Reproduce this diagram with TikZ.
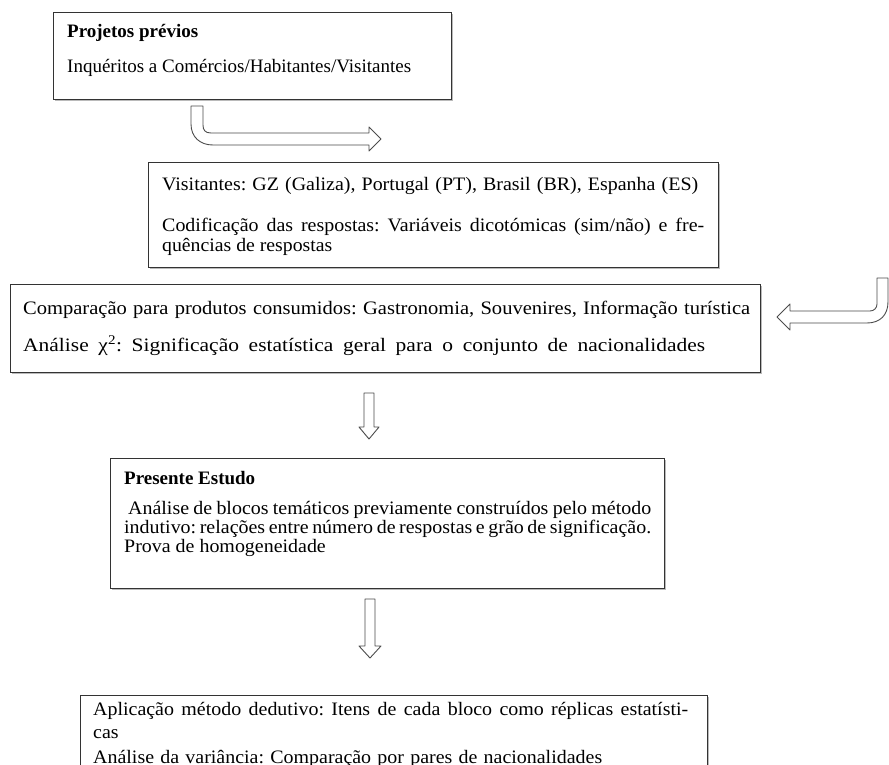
\documentclass[tikz,border=0pt]{standalone}
\usepackage{fontspec}
\setmainfont{Liberation Serif}
\usetikzlibrary{shadows}
\newcommand\myline[3][1.05]{\makebox[#2][s]{\addfontfeature{FakeStretch=#1}#3}}
\tikzset{
  box/.style={draw=black!80, line width=1pt, fill=white, inner sep=0pt, anchor=north west,
    drop shadow={shadow xshift=1pt, shadow yshift=-1.5pt, opacity=0.45, fill=black!60}},
  txt/.style={anchor=base west, inner sep=0pt, font=\fontsize{19}{21}\selectfont\frenchspacing},
  arr/.style={draw=black!70, line width=0.9pt, fill=white, line join=round},
}
\begin{document}
\begin{tikzpicture}[x=1pt, y=-1pt]
\fill[white] (0,0) rectangle (889,765);
\useasboundingbox (0,0) rectangle (889,765);

% boxes
\node[box, minimum width=398pt, minimum height=87pt] (b1) at (53,12) {};
\node[box, minimum width=570pt, minimum height=105pt] (b2) at (148,162) {};
\node[box, minimum width=750pt, minimum height=88pt] (b3) at (10,284) {};
\node[box, minimum width=554pt, minimum height=130pt] (b4) at (110,458) {};
\node[box, minimum width=627pt, minimum height=90pt] (b5) at (80,695) {};

% box 1
\node[txt] (t11) at (67,38) {\bfseries Projetos prévios};
\node[txt] (t12) at (67,73) {Inquéritos a Comércios/Habitantes/Visitantes};

% box 2
\node[txt] (t21) at (162,190) {\myline{536pt}{Visitantes: GZ (Galiza), Portugal (PT), Brasil (BR), Espanha (ES)}};
\node[txt] (t22) at (162,231) {\myline{542pt}{Codificação das respostas: Variáveis dicotómicas (sim/não) e fre-}};
\node[txt] (t23) at (162,251) {\addfontfeature{FakeStretch=1.04}quências de respostas};

% box 3
\node[txt] (t31) at (23,314) {\myline[1.08]{727pt}{Comparação para produtos consumidos: Gastronomia, Souvenires, Informação turística}};
\node[txt] (t32) at (23,351) {\myline[1.13]{682pt}{Análise χ\textsuperscript{2}: Significação estatística geral para o conjunto de nacionalidades}};

% box 4
\node[txt] (t41) at (124,484) {\bfseries Presente Estudo};
\node[txt] (t42) at (128,514) {\myline{523pt}{Análise de blocos temáticos previamente construídos pelo método}};
\node[txt] (t43) at (124,533) {\myline{527pt}{indutivo: relações entre número de respostas e grão de significação.}};
\node[txt] (t44) at (124,552) {\addfontfeature{FakeStretch=1.05}Prova de homogeneidade};

% box 5
\node[txt] (t51) at (93,715) {\myline{595pt}{Aplicação método dedutivo: Itens de cada bloco como réplicas estatísti-}};
\node[txt] (t52) at (93,738) {\addfontfeature{FakeStretch=1.05}cas};
\node[txt] (t53) at (93,763) {\myline{509pt}{Análise da variância: Comparação por pares de nacionalidades}};

% bent arrow 1 (down then right)
\draw[arr] (191,106) -- (203,106) -- (203,125)
  .. controls (203,130) and (205,133) .. (211,133) -- (369,133) -- (369,127)
  -- (381,139) -- (369,151) -- (369,145) -- (213,145)
  .. controls (200,145) and (191,137) .. (191,124) -- cycle;

% bent arrow 2 (down then left)
\draw[arr] (877,278) -- (888,278) -- (888,302)
  .. controls (888,315) and (880,323) .. (867,323) -- (790,323) -- (790,330)
  -- (777,317) -- (790,304) -- (790,311) -- (870,311)
  .. controls (874,311) and (877,308) .. (877,304) -- cycle;

% down arrows
\draw[arr] (364,393) -- (374,393) -- (374,427) -- (379,427) -- (369,439)
  -- (359,427) -- (364,427) -- cycle;
\draw[arr] (365,599) -- (375,599) -- (375,646) -- (381,646) -- (370,658)
  -- (359,646) -- (365,646) -- cycle;
\end{tikzpicture}
\end{document}
